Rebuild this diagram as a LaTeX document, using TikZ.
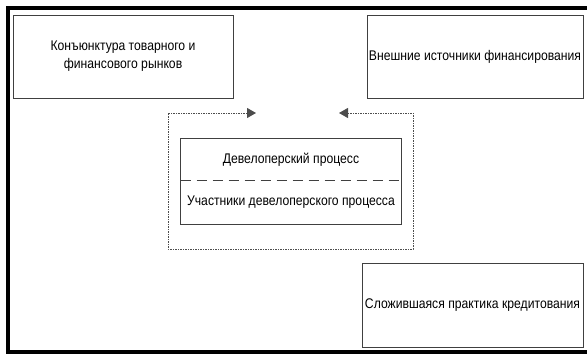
\documentclass[tikz,border=0pt]{standalone}
\usepackage{fontspec}
\setmainfont{Liberation Sans}[FakeStretch=0.87]
\usetikzlibrary{arrows.meta,positioning}

\begin{document}
\begin{tikzpicture}[x=1pt,y=-1pt,
  box/.style={draw=black!75,line width=0.9pt,align=center,inner sep=0pt,font=\fontsize{14}{18}\selectfont},
  part/.style={box,draw=none,minimum width=220pt},
  loopline/.style={draw=black!70,line width=0.9pt,dash pattern=on 1.5pt off 1pt,
    {Triangle[length=9pt,width=10pt]}-{Triangle[length=9pt,width=10pt]}}]
\useasboundingbox (0,0) rectangle (587,354);
\draw[line width=4pt] (587,8) -- (8,8) -- (8,352) -- (587,352);

\node[box,minimum width=220pt,minimum height=83pt] (market) at (123,56.5) {Конъюнктура товарного и\\финансового рынков};
\node[box,minimum width=216pt,minimum height=83pt] (funds) at (475,56.5) {Внешние источники финансирования};
\node[box,minimum width=221pt,minimum height=84pt] (credit) at (472.5,305) {Сложившаяся практика кредитования};

\node[part,minimum height=41pt] (devproc) at (291,159.5) {Девелоперский процесс};
\node[part,minimum height=43pt,below=0pt of devproc] (devpart) {Участники девелоперского процесса};
\draw[draw=black!75,line width=0.9pt] (devproc.north west) rectangle (devpart.south east);
\draw[draw=black!75,line width=1.5pt,dash pattern=on 10pt off 6pt] (devproc.south west) -- (devproc.south east);

\coordinate (tipL) at (256,113);
\coordinate (tipR) at (339,113);
\foreach \n/\p in {1/{168,113},2/{168,249},3/{413,249},4/{413,113}}
  \coordinate (c\n) at (\p);
\draw[loopline] (tipL) -- (c1) -- (c2) -- (c3) -- (c4) -- (tipR);
\end{tikzpicture}
\end{document}
